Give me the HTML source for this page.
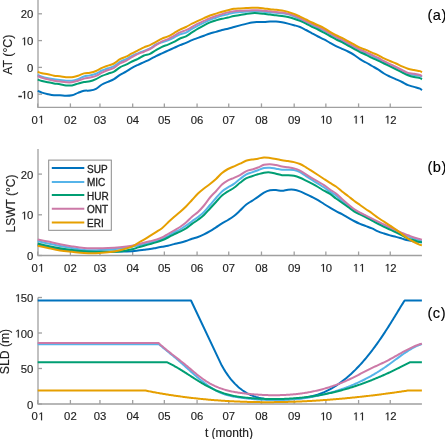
<!DOCTYPE html>
<html><head><meta charset="utf-8"><style>
html,body{margin:0;padding:0;background:#fff;}
body{width:445px;height:439px;overflow:hidden;}
svg{display:block;}
svg text{filter:grayscale(1);}
text{font-family:"Liberation Sans",sans-serif;fill:#222;stroke:#222;stroke-width:0.15px;}
.tl text{font-size:11.3px;}
.one polygon{fill:#222;stroke:#222;stroke-width:0.15px;}
.lg{font-size:10px;stroke-width:0.3px;}
.yl{font-size:12px;}
.pl{font-size:14.6px;fill:#000;stroke:#000;letter-spacing:0.6px;}
</style></head><body>
<svg width="445" height="439" viewBox="0 0 445 439">
<g stroke="#a0a0a0" stroke-width="1.3" fill="none"><line x1="37.68" y1="107.4" x2="37.68" y2="103.4" /><line x1="70.40" y1="107.4" x2="70.40" y2="103.4" /><line x1="99.96" y1="107.4" x2="99.96" y2="103.4" /><line x1="132.68" y1="107.4" x2="132.68" y2="103.4" /><line x1="164.35" y1="107.4" x2="164.35" y2="103.4" /><line x1="197.08" y1="107.4" x2="197.08" y2="103.4" /><line x1="228.74" y1="107.4" x2="228.74" y2="103.4" /><line x1="261.47" y1="107.4" x2="261.47" y2="103.4" /><line x1="294.19" y1="107.4" x2="294.19" y2="103.4" /><line x1="325.86" y1="107.4" x2="325.86" y2="103.4" /><line x1="358.58" y1="107.4" x2="358.58" y2="103.4" /><line x1="390.25" y1="107.4" x2="390.25" y2="103.4" /><line x1="38.0" y1="94.20" x2="42.0" y2="94.20" /><line x1="38.0" y1="67.40" x2="42.0" y2="67.40" /><line x1="38.0" y1="40.60" x2="42.0" y2="40.60" /><line x1="38.0" y1="13.80" x2="42.0" y2="13.80" /><polyline fill="none" points="38.0,0 38.0,107.4 421.92,107.4" /></g><g class="tl"><text x="16.95" y="98.80"><tspan dx="1.2" style="stroke-width:0.6px">-</tspan><tspan dx="-1.2"> 0</tspan></text><text x="27.00" y="72.00">0</text><text x="20.71" y="45.20"> 0</text><text x="20.71" y="18.40">20</text><text x="31.40" y="123.50">0 </text><text x="64.12" y="123.50">02</text><text x="93.68" y="123.50">03</text><text x="126.40" y="123.50">04</text><text x="158.07" y="123.50">05</text><text x="190.79" y="123.50">06</text><text x="222.46" y="123.50">07</text><text x="255.18" y="123.50">08</text><text x="287.91" y="123.50">09</text><text x="319.57" y="123.50"> 0</text><text x="352.30" y="123.50">  </text><text x="383.97" y="123.50"> 2</text></g><g class="one"><polygon points="24.10,98.80 24.10,91.97 22.53,93.12 22.53,92.23 24.19,91.03 25.10,91.03 25.10,98.80"/><polygon points="24.10,45.20 24.10,38.37 22.53,39.52 22.53,38.63 24.19,37.43 25.10,37.43 25.10,45.20"/><polygon points="41.07,123.50 41.07,116.67 39.50,117.82 39.50,116.93 41.16,115.73 42.07,115.73 42.07,123.50"/><polygon points="322.97,123.50 322.97,116.67 321.40,117.82 321.40,116.93 323.05,115.73 323.97,115.73 323.97,123.50"/><polygon points="355.69,123.50 355.69,116.67 354.12,117.82 354.12,116.93 355.77,115.73 356.69,115.73 356.69,123.50"/><polygon points="361.98,123.50 361.98,116.67 360.40,117.82 360.40,116.93 362.06,115.73 362.97,115.73 362.97,123.50"/><polygon points="387.36,123.50 387.36,116.67 385.79,117.82 385.79,116.93 387.44,115.73 388.36,115.73 388.36,123.50"/></g><g fill="none" stroke-width="2" stroke-linejoin="round" stroke-linecap="butt"><path d="M37.70,90.80 C38.42,91.10 40.28,92.03 42.00,92.60 C43.72,93.17 46.00,93.75 48.00,94.20 C50.00,94.65 52.00,95.12 54.00,95.30 C56.00,95.48 58.00,95.22 60.00,95.30 C62.00,95.38 64.00,95.80 66.00,95.80 C68.00,95.80 70.00,95.78 72.00,95.30 C74.00,94.82 76.00,93.65 78.00,92.90 C80.00,92.15 82.00,91.20 84.00,90.80 C86.00,90.40 88.00,90.83 90.00,90.50 C92.00,90.17 94.00,89.80 96.00,88.80 C98.00,87.80 100.00,85.67 102.00,84.50 C104.00,83.33 106.00,82.70 108.00,81.80 C110.00,80.90 112.00,80.27 114.00,79.10 C116.00,77.93 118.00,76.05 120.00,74.80 C122.00,73.55 124.00,72.77 126.00,71.60 C128.00,70.43 130.00,68.93 132.00,67.80 C134.00,66.67 136.00,65.75 138.00,64.80 C140.00,63.85 142.00,63.02 144.00,62.10 C146.00,61.18 148.00,60.30 150.00,59.30 C152.00,58.30 154.00,57.10 156.00,56.10 C158.00,55.10 160.00,54.22 162.00,53.30 C164.00,52.38 166.00,51.50 168.00,50.60 C170.00,49.70 172.00,48.80 174.00,47.90 C176.00,47.00 178.00,46.05 180.00,45.20 C182.00,44.35 184.00,43.65 186.00,42.80 C188.00,41.95 190.00,40.92 192.00,40.10 C194.00,39.28 196.00,38.63 198.00,37.90 C200.00,37.17 202.00,36.43 204.00,35.70 C206.00,34.97 208.00,34.13 210.00,33.50 C212.00,32.87 214.00,32.48 216.00,31.90 C218.00,31.32 220.00,30.53 222.00,30.00 C224.00,29.47 226.00,29.20 228.00,28.70 C230.00,28.20 232.00,27.55 234.00,27.00 C236.00,26.45 238.00,25.92 240.00,25.40 C242.00,24.88 244.00,24.40 246.00,23.90 C248.00,23.40 250.00,22.70 252.00,22.40 C254.00,22.10 256.00,22.15 258.00,22.10 C260.00,22.05 262.00,22.18 264.00,22.10 C266.00,22.02 268.00,21.70 270.00,21.60 C272.00,21.50 274.00,21.38 276.00,21.50 C278.00,21.62 280.00,21.95 282.00,22.30 C284.00,22.65 286.00,23.12 288.00,23.60 C290.00,24.08 292.00,24.63 294.00,25.20 C296.00,25.77 298.00,26.20 300.00,27.00 C302.00,27.80 304.00,28.95 306.00,30.00 C308.00,31.05 310.00,32.22 312.00,33.30 C314.00,34.38 316.00,35.48 318.00,36.50 C320.00,37.52 322.00,38.35 324.00,39.40 C326.00,40.45 328.00,41.68 330.00,42.80 C332.00,43.92 334.00,45.10 336.00,46.10 C338.00,47.10 340.00,47.90 342.00,48.80 C344.00,49.70 346.00,50.50 348.00,51.50 C350.00,52.50 352.00,53.52 354.00,54.80 C356.00,56.08 358.00,57.92 360.00,59.20 C362.00,60.48 364.00,61.37 366.00,62.50 C368.00,63.63 370.00,64.85 372.00,66.00 C374.00,67.15 376.00,68.15 378.00,69.40 C380.00,70.65 382.00,72.30 384.00,73.50 C386.00,74.70 388.00,75.63 390.00,76.60 C392.00,77.57 394.00,78.40 396.00,79.30 C398.00,80.20 400.00,81.03 402.00,82.00 C404.00,82.97 406.00,84.28 408.00,85.10 C410.00,85.92 412.00,86.30 414.00,86.90 C416.00,87.50 418.68,88.15 420.00,88.70 C421.32,89.25 421.58,89.95 421.90,90.20" stroke="#0072BD" /><path d="M37.70,74.80 C38.42,75.12 40.28,76.13 42.00,76.70 C43.72,77.27 46.00,77.77 48.00,78.20 C50.00,78.63 52.00,79.00 54.00,79.30 C56.00,79.60 58.00,79.77 60.00,80.00 C62.00,80.23 64.00,80.58 66.00,80.70 C68.00,80.82 70.00,80.97 72.00,80.70 C74.00,80.43 76.00,79.80 78.00,79.10 C80.00,78.40 82.00,77.12 84.00,76.50 C86.00,75.88 88.00,75.87 90.00,75.40 C92.00,74.93 94.00,74.52 96.00,73.70 C98.00,72.88 100.00,71.40 102.00,70.50 C104.00,69.60 106.00,69.02 108.00,68.30 C110.00,67.58 112.00,67.27 114.00,66.20 C116.00,65.13 118.00,63.07 120.00,61.90 C122.00,60.73 124.00,60.20 126.00,59.20 C128.00,58.20 130.00,56.88 132.00,55.90 C134.00,54.92 136.00,54.13 138.00,53.30 C140.00,52.47 142.00,51.72 144.00,50.90 C146.00,50.08 148.00,49.48 150.00,48.40 C152.00,47.32 154.00,45.40 156.00,44.40 C158.00,43.40 160.00,43.10 162.00,42.40 C164.00,41.70 166.00,41.02 168.00,40.20 C170.00,39.38 172.00,38.47 174.00,37.50 C176.00,36.53 178.00,35.22 180.00,34.40 C182.00,33.58 184.00,33.52 186.00,32.60 C188.00,31.68 190.00,30.07 192.00,28.90 C194.00,27.73 196.00,26.65 198.00,25.60 C200.00,24.55 202.00,23.55 204.00,22.60 C206.00,21.65 208.00,20.72 210.00,19.90 C212.00,19.08 214.00,18.43 216.00,17.70 C218.00,16.97 220.00,16.08 222.00,15.50 C224.00,14.92 226.00,14.67 228.00,14.20 C230.00,13.73 232.00,13.05 234.00,12.70 C236.00,12.35 238.00,12.27 240.00,12.10 C242.00,11.93 244.00,11.83 246.00,11.70 C248.00,11.57 250.00,11.37 252.00,11.30 C254.00,11.23 256.00,11.23 258.00,11.30 C260.00,11.37 262.00,11.52 264.00,11.70 C266.00,11.88 268.00,12.22 270.00,12.40 C272.00,12.58 273.00,12.47 276.00,12.80 C279.00,13.13 284.00,13.37 288.00,14.40 C292.00,15.43 296.00,17.25 300.00,19.00 C304.00,20.75 308.00,22.97 312.00,24.90 C316.00,26.83 320.00,28.50 324.00,30.60 C328.00,32.70 332.00,35.28 336.00,37.50 C340.00,39.72 344.00,41.78 348.00,43.90 C352.00,46.02 356.00,48.22 360.00,50.20 C364.00,52.18 368.00,53.82 372.00,55.80 C376.00,57.78 380.00,60.07 384.00,62.10 C388.00,64.13 392.00,66.05 396.00,68.00 C400.00,69.95 404.00,72.50 408.00,73.80 C412.00,75.10 417.68,75.27 420.00,75.80 C422.32,76.33 421.58,76.80 421.90,77.00" stroke="#56B4E9" /><path d="M37.70,79.60 C38.42,79.83 40.28,80.55 42.00,81.00 C43.72,81.45 46.00,81.90 48.00,82.30 C50.00,82.70 52.00,83.07 54.00,83.40 C56.00,83.73 58.00,83.97 60.00,84.30 C62.00,84.63 64.00,85.22 66.00,85.40 C68.00,85.58 70.00,85.70 72.00,85.40 C74.00,85.10 76.00,84.17 78.00,83.60 C80.00,83.03 82.00,82.38 84.00,82.00 C86.00,81.62 88.00,81.78 90.00,81.30 C92.00,80.82 94.00,80.00 96.00,79.10 C98.00,78.20 100.00,76.80 102.00,75.90 C104.00,75.00 106.00,74.42 108.00,73.70 C110.00,72.98 112.00,72.67 114.00,71.60 C116.00,70.53 118.00,68.47 120.00,67.30 C122.00,66.13 124.00,65.57 126.00,64.60 C128.00,63.63 130.00,62.47 132.00,61.50 C134.00,60.53 136.00,59.80 138.00,58.80 C140.00,57.80 142.00,56.32 144.00,55.50 C146.00,54.68 148.00,54.80 150.00,53.90 C152.00,53.00 154.00,51.28 156.00,50.10 C158.00,48.92 160.00,47.72 162.00,46.80 C164.00,45.88 166.00,45.42 168.00,44.60 C170.00,43.78 172.00,42.92 174.00,41.90 C176.00,40.88 178.00,39.43 180.00,38.50 C182.00,37.57 184.00,37.32 186.00,36.30 C188.00,35.28 190.00,33.68 192.00,32.40 C194.00,31.12 196.00,29.78 198.00,28.60 C200.00,27.42 202.00,26.33 204.00,25.30 C206.00,24.27 208.00,23.22 210.00,22.40 C212.00,21.58 214.00,21.00 216.00,20.40 C218.00,19.80 220.00,19.28 222.00,18.80 C224.00,18.32 226.00,17.97 228.00,17.50 C230.00,17.03 232.00,16.40 234.00,16.00 C236.00,15.60 238.00,15.43 240.00,15.10 C242.00,14.77 244.00,14.32 246.00,14.00 C248.00,13.68 250.00,13.33 252.00,13.20 C254.00,13.07 256.00,13.10 258.00,13.20 C260.00,13.30 262.00,13.57 264.00,13.80 C266.00,14.03 268.00,14.37 270.00,14.60 C272.00,14.83 274.00,14.97 276.00,15.20 C278.00,15.43 280.00,15.68 282.00,16.00 C284.00,16.32 286.00,16.65 288.00,17.10 C290.00,17.55 292.00,18.07 294.00,18.70 C296.00,19.33 298.00,20.08 300.00,20.90 C302.00,21.72 304.00,22.62 306.00,23.60 C308.00,24.58 310.00,25.82 312.00,26.80 C314.00,27.78 316.00,28.52 318.00,29.50 C320.00,30.48 322.00,31.62 324.00,32.70 C326.00,33.78 328.00,34.90 330.00,36.00 C332.00,37.10 334.00,38.27 336.00,39.30 C338.00,40.33 340.00,41.17 342.00,42.20 C344.00,43.23 346.00,44.40 348.00,45.50 C350.00,46.60 352.00,47.70 354.00,48.80 C356.00,49.90 358.00,51.10 360.00,52.10 C362.00,53.10 364.00,53.83 366.00,54.80 C368.00,55.77 370.00,56.93 372.00,57.90 C374.00,58.87 376.00,59.67 378.00,60.60 C380.00,61.53 382.00,62.53 384.00,63.50 C386.00,64.47 388.00,65.42 390.00,66.40 C392.00,67.38 394.00,68.42 396.00,69.40 C398.00,70.38 400.00,71.33 402.00,72.30 C404.00,73.27 406.00,74.42 408.00,75.20 C410.00,75.98 412.00,76.52 414.00,77.00 C416.00,77.48 418.68,77.72 420.00,78.10 C421.32,78.48 421.58,79.10 421.90,79.30" stroke="#009E73" /><path d="M37.70,75.90 C38.42,76.22 40.28,77.23 42.00,77.80 C43.72,78.37 46.00,78.82 48.00,79.30 C50.00,79.78 52.00,80.33 54.00,80.70 C56.00,81.07 58.00,81.23 60.00,81.50 C62.00,81.77 64.00,82.17 66.00,82.30 C68.00,82.43 70.00,82.57 72.00,82.30 C74.00,82.03 76.00,81.32 78.00,80.70 C80.00,80.08 82.00,79.13 84.00,78.60 C86.00,78.07 88.00,77.95 90.00,77.50 C92.00,77.05 94.00,76.70 96.00,75.90 C98.00,75.10 100.00,73.68 102.00,72.70 C104.00,71.72 106.00,70.82 108.00,70.00 C110.00,69.18 112.00,68.88 114.00,67.80 C116.00,66.72 118.00,64.67 120.00,63.50 C122.00,62.33 124.00,61.85 126.00,60.80 C128.00,59.75 130.00,58.35 132.00,57.20 C134.00,56.05 136.00,54.82 138.00,53.90 C140.00,52.98 142.00,52.52 144.00,51.70 C146.00,50.88 148.00,50.10 150.00,49.00 C152.00,47.90 154.00,46.38 156.00,45.10 C158.00,43.82 160.00,42.30 162.00,41.30 C164.00,40.30 166.00,40.02 168.00,39.10 C170.00,38.18 172.00,36.92 174.00,35.80 C176.00,34.68 178.00,33.33 180.00,32.40 C182.00,31.47 184.00,31.10 186.00,30.20 C188.00,29.30 190.00,28.08 192.00,27.00 C194.00,25.92 196.00,24.72 198.00,23.70 C200.00,22.68 202.00,21.82 204.00,20.90 C206.00,19.98 208.00,19.02 210.00,18.20 C212.00,17.38 214.00,16.68 216.00,16.00 C218.00,15.32 220.00,14.70 222.00,14.10 C224.00,13.50 226.00,12.87 228.00,12.40 C230.00,11.93 232.00,11.57 234.00,11.30 C236.00,11.03 238.00,10.92 240.00,10.80 C242.00,10.68 244.00,10.70 246.00,10.60 C248.00,10.50 250.00,10.27 252.00,10.20 C254.00,10.13 256.00,10.10 258.00,10.20 C260.00,10.30 262.00,10.62 264.00,10.80 C266.00,10.98 268.00,11.10 270.00,11.30 C272.00,11.50 274.00,11.78 276.00,12.00 C278.00,12.22 280.00,12.32 282.00,12.60 C284.00,12.88 286.00,13.22 288.00,13.70 C290.00,14.18 292.00,14.75 294.00,15.50 C296.00,16.25 298.00,17.22 300.00,18.20 C302.00,19.18 304.00,20.42 306.00,21.40 C308.00,22.38 310.00,23.20 312.00,24.10 C314.00,25.00 316.00,25.83 318.00,26.80 C320.00,27.77 322.00,28.78 324.00,29.90 C326.00,31.02 328.00,32.35 330.00,33.50 C332.00,34.65 334.00,35.77 336.00,36.80 C338.00,37.83 340.00,38.67 342.00,39.70 C344.00,40.73 346.00,41.90 348.00,43.00 C350.00,44.10 352.00,45.20 354.00,46.30 C356.00,47.40 358.00,48.63 360.00,49.60 C362.00,50.57 364.00,51.20 366.00,52.10 C368.00,53.00 370.00,54.07 372.00,55.00 C374.00,55.93 376.00,56.67 378.00,57.70 C380.00,58.73 382.00,60.13 384.00,61.20 C386.00,62.27 388.00,63.13 390.00,64.10 C392.00,65.07 394.00,66.02 396.00,67.00 C398.00,67.98 400.00,69.02 402.00,70.00 C404.00,70.98 406.00,72.27 408.00,72.90 C410.00,73.53 412.00,73.45 414.00,73.80 C416.00,74.15 418.68,74.62 420.00,75.00 C421.32,75.38 421.58,75.92 421.90,76.10" stroke="#CC79A7" /><path d="M37.70,71.80 C38.42,72.03 40.28,72.80 42.00,73.20 C43.72,73.60 46.00,73.78 48.00,74.20 C50.00,74.62 52.00,75.37 54.00,75.70 C56.00,76.03 58.00,75.95 60.00,76.20 C62.00,76.45 64.00,77.03 66.00,77.20 C68.00,77.37 70.00,77.45 72.00,77.20 C74.00,76.95 76.00,76.33 78.00,75.70 C80.00,75.07 82.00,73.90 84.00,73.40 C86.00,72.90 88.00,73.10 90.00,72.70 C92.00,72.30 94.00,71.82 96.00,71.00 C98.00,70.18 100.00,68.70 102.00,67.80 C104.00,66.90 106.00,66.32 108.00,65.60 C110.00,64.88 112.00,64.57 114.00,63.50 C116.00,62.43 118.00,60.33 120.00,59.20 C122.00,58.07 124.00,57.68 126.00,56.70 C128.00,55.72 130.00,54.37 132.00,53.30 C134.00,52.23 136.00,51.30 138.00,50.30 C140.00,49.30 142.00,48.17 144.00,47.30 C146.00,46.43 148.00,46.00 150.00,45.10 C152.00,44.20 154.00,42.98 156.00,41.90 C158.00,40.82 160.00,39.52 162.00,38.60 C164.00,37.68 166.00,37.32 168.00,36.40 C170.00,35.48 172.00,34.23 174.00,33.10 C176.00,31.97 178.00,30.62 180.00,29.60 C182.00,28.58 184.00,27.98 186.00,27.00 C188.00,26.02 190.00,24.72 192.00,23.70 C194.00,22.68 196.00,21.82 198.00,20.90 C200.00,19.98 202.00,19.10 204.00,18.20 C206.00,17.30 208.00,16.27 210.00,15.50 C212.00,14.73 214.00,14.23 216.00,13.60 C218.00,12.97 220.00,12.27 222.00,11.70 C224.00,11.13 226.00,10.68 228.00,10.20 C230.00,9.72 232.00,9.10 234.00,8.80 C236.00,8.50 238.00,8.52 240.00,8.40 C242.00,8.28 244.00,8.20 246.00,8.10 C248.00,8.00 250.00,7.85 252.00,7.80 C254.00,7.75 256.00,7.70 258.00,7.80 C260.00,7.90 262.00,8.17 264.00,8.40 C266.00,8.63 268.00,8.97 270.00,9.20 C272.00,9.43 274.00,9.57 276.00,9.80 C278.00,10.03 280.00,10.25 282.00,10.60 C284.00,10.95 286.00,11.35 288.00,11.90 C290.00,12.45 292.00,13.12 294.00,13.90 C296.00,14.68 298.00,15.67 300.00,16.60 C302.00,17.53 304.00,18.52 306.00,19.50 C308.00,20.48 310.00,21.55 312.00,22.50 C314.00,23.45 316.00,24.27 318.00,25.20 C320.00,26.13 322.00,27.00 324.00,28.10 C326.00,29.20 328.00,30.63 330.00,31.80 C332.00,32.97 334.00,34.08 336.00,35.10 C338.00,36.12 340.00,36.90 342.00,37.90 C344.00,38.90 346.00,40.02 348.00,41.10 C350.00,42.18 352.00,43.30 354.00,44.40 C356.00,45.50 358.00,46.78 360.00,47.70 C362.00,48.62 364.00,49.07 366.00,49.90 C368.00,50.73 370.00,51.83 372.00,52.70 C374.00,53.57 376.00,54.17 378.00,55.10 C380.00,56.03 382.00,57.32 384.00,58.30 C386.00,59.28 388.00,60.13 390.00,61.00 C392.00,61.87 394.00,62.60 396.00,63.50 C398.00,64.40 400.00,65.52 402.00,66.40 C404.00,67.28 406.00,68.20 408.00,68.80 C410.00,69.40 412.00,69.62 414.00,70.00 C416.00,70.38 418.68,70.72 420.00,71.10 C421.32,71.48 421.58,72.10 421.90,72.30" stroke="#E69F00" /></g><g stroke="#a0a0a0" stroke-width="1.3" fill="none"><line x1="37.68" y1="255.5" x2="37.68" y2="251.5" /><line x1="70.40" y1="255.5" x2="70.40" y2="251.5" /><line x1="99.96" y1="255.5" x2="99.96" y2="251.5" /><line x1="132.68" y1="255.5" x2="132.68" y2="251.5" /><line x1="164.35" y1="255.5" x2="164.35" y2="251.5" /><line x1="197.08" y1="255.5" x2="197.08" y2="251.5" /><line x1="228.74" y1="255.5" x2="228.74" y2="251.5" /><line x1="261.47" y1="255.5" x2="261.47" y2="251.5" /><line x1="294.19" y1="255.5" x2="294.19" y2="251.5" /><line x1="325.86" y1="255.5" x2="325.86" y2="251.5" /><line x1="358.58" y1="255.5" x2="358.58" y2="251.5" /><line x1="390.25" y1="255.5" x2="390.25" y2="251.5" /><line x1="38.0" y1="255.50" x2="42.0" y2="255.50" /><line x1="38.0" y1="214.80" x2="42.0" y2="214.80" /><line x1="38.0" y1="174.10" x2="42.0" y2="174.10" /><polyline fill="none" points="38.0,148.9 38.0,255.5 421.92,255.5" /></g><g class="tl"><text x="27.00" y="260.10">0</text><text x="20.71" y="219.40"> 0</text><text x="20.71" y="178.70">20</text><text x="31.40" y="271.80">0 </text><text x="64.12" y="271.80">02</text><text x="93.68" y="271.80">03</text><text x="126.40" y="271.80">04</text><text x="158.07" y="271.80">05</text><text x="190.79" y="271.80">06</text><text x="222.46" y="271.80">07</text><text x="255.18" y="271.80">08</text><text x="287.91" y="271.80">09</text><text x="319.57" y="271.80"> 0</text><text x="352.30" y="271.80">  </text><text x="383.97" y="271.80"> 2</text></g><g class="one"><polygon points="24.10,219.40 24.10,212.57 22.53,213.72 22.53,212.83 24.19,211.63 25.10,211.63 25.10,219.40"/><polygon points="41.07,271.80 41.07,264.97 39.50,266.12 39.50,265.23 41.16,264.03 42.07,264.03 42.07,271.80"/><polygon points="322.97,271.80 322.97,264.97 321.40,266.12 321.40,265.23 323.05,264.03 323.97,264.03 323.97,271.80"/><polygon points="355.69,271.80 355.69,264.97 354.12,266.12 354.12,265.23 355.77,264.03 356.69,264.03 356.69,271.80"/><polygon points="361.98,271.80 361.98,264.97 360.40,266.12 360.40,265.23 362.06,264.03 362.97,264.03 362.97,271.80"/><polygon points="387.36,271.80 387.36,264.97 385.79,266.12 385.79,265.23 387.44,264.03 388.36,264.03 388.36,271.80"/></g><g fill="none" stroke-width="2" stroke-linejoin="round" stroke-linecap="butt"><path d="M37.70,244.90 C39.42,245.25 44.28,246.28 48.00,247.00 C51.72,247.72 56.00,248.62 60.00,249.20 C64.00,249.78 68.00,250.15 72.00,250.50 C76.00,250.85 80.00,251.12 84.00,251.30 C88.00,251.48 92.00,251.52 96.00,251.60 C100.00,251.68 104.00,251.82 108.00,251.80 C112.00,251.78 116.00,251.60 120.00,251.50 C124.00,251.40 129.00,251.35 132.00,251.20 C135.00,251.05 136.00,250.83 138.00,250.60 C140.00,250.37 142.00,250.07 144.00,249.80 C146.00,249.53 148.00,249.32 150.00,249.00 C152.00,248.68 154.00,248.27 156.00,247.90 C158.00,247.53 160.00,247.17 162.00,246.80 C164.00,246.43 166.00,246.15 168.00,245.70 C170.00,245.25 172.00,244.58 174.00,244.10 C176.00,243.62 178.00,243.32 180.00,242.80 C182.00,242.28 184.00,241.67 186.00,241.00 C188.00,240.33 190.00,239.47 192.00,238.80 C194.00,238.13 196.00,237.73 198.00,237.00 C200.00,236.27 202.00,235.37 204.00,234.40 C206.00,233.43 208.00,232.38 210.00,231.20 C212.00,230.02 214.00,228.62 216.00,227.30 C218.00,225.98 220.00,224.52 222.00,223.30 C224.00,222.08 226.00,221.22 228.00,220.00 C230.00,218.78 232.00,217.57 234.00,216.00 C236.00,214.43 238.00,212.47 240.00,210.60 C242.00,208.73 244.00,206.43 246.00,204.80 C248.00,203.17 250.00,202.12 252.00,200.80 C254.00,199.48 256.00,198.27 258.00,196.90 C260.00,195.53 262.00,193.72 264.00,192.60 C266.00,191.48 268.00,190.63 270.00,190.20 C272.00,189.77 274.00,189.90 276.00,190.00 C278.00,190.10 280.00,190.85 282.00,190.80 C284.00,190.75 286.00,189.88 288.00,189.70 C290.00,189.52 292.00,189.42 294.00,189.70 C296.00,189.98 298.00,190.67 300.00,191.40 C302.00,192.13 304.00,193.17 306.00,194.10 C308.00,195.03 310.00,195.98 312.00,197.00 C314.00,198.02 316.00,199.03 318.00,200.20 C320.00,201.37 322.00,202.75 324.00,204.00 C326.00,205.25 328.00,206.50 330.00,207.70 C332.00,208.90 334.00,210.12 336.00,211.20 C338.00,212.28 340.00,213.13 342.00,214.20 C344.00,215.27 346.00,216.47 348.00,217.60 C350.00,218.73 352.00,219.95 354.00,221.00 C356.00,222.05 358.00,223.05 360.00,223.90 C362.00,224.75 364.00,225.35 366.00,226.10 C368.00,226.85 370.00,227.53 372.00,228.40 C374.00,229.27 376.00,230.45 378.00,231.30 C380.00,232.15 382.00,232.82 384.00,233.50 C386.00,234.18 388.00,234.83 390.00,235.40 C392.00,235.97 394.00,236.37 396.00,236.90 C398.00,237.43 400.00,238.03 402.00,238.60 C404.00,239.17 406.00,239.83 408.00,240.30 C410.00,240.77 412.00,241.12 414.00,241.40 C416.00,241.68 418.68,241.87 420.00,242.00 C421.32,242.13 421.58,242.17 421.90,242.20" stroke="#0072BD" /><path d="M37.70,241.00 C39.42,241.42 44.28,242.68 48.00,243.50 C51.72,244.32 56.00,245.15 60.00,245.90 C64.00,246.65 68.00,247.32 72.00,248.00 C76.00,248.68 80.00,249.63 84.00,250.00 C88.00,250.37 92.00,250.27 96.00,250.20 C100.00,250.13 104.00,249.87 108.00,249.60 C112.00,249.33 116.00,249.07 120.00,248.60 C124.00,248.13 129.00,247.33 132.00,246.80 C135.00,246.27 136.00,245.85 138.00,245.40 C140.00,244.95 142.00,244.53 144.00,244.10 C146.00,243.67 148.00,243.27 150.00,242.80 C152.00,242.33 154.00,241.90 156.00,241.30 C158.00,240.70 160.00,240.08 162.00,239.20 C164.00,238.32 166.00,237.12 168.00,236.00 C170.00,234.88 172.00,233.58 174.00,232.50 C176.00,231.42 178.00,230.65 180.00,229.50 C182.00,228.35 184.00,226.97 186.00,225.60 C188.00,224.23 190.00,222.73 192.00,221.30 C194.00,219.87 196.00,218.55 198.00,217.00 C200.00,215.45 202.00,214.00 204.00,212.00 C206.00,210.00 208.00,207.33 210.00,205.00 C212.00,202.67 214.00,200.27 216.00,198.00 C218.00,195.73 220.00,193.18 222.00,191.40 C224.00,189.62 226.00,188.55 228.00,187.30 C230.00,186.05 232.00,185.28 234.00,183.90 C236.00,182.52 238.00,180.55 240.00,179.00 C242.00,177.45 244.00,175.70 246.00,174.60 C248.00,173.50 250.00,173.13 252.00,172.40 C254.00,171.67 256.00,170.93 258.00,170.20 C260.00,169.47 262.00,168.42 264.00,168.00 C266.00,167.58 268.00,167.58 270.00,167.70 C272.00,167.82 274.00,168.37 276.00,168.70 C278.00,169.03 280.00,169.53 282.00,169.70 C284.00,169.87 286.00,169.65 288.00,169.70 C290.00,169.75 292.00,169.58 294.00,170.00 C296.00,170.42 298.00,171.18 300.00,172.20 C302.00,173.22 304.00,174.82 306.00,176.10 C308.00,177.38 310.00,178.63 312.00,179.90 C314.00,181.17 316.00,182.43 318.00,183.70 C320.00,184.97 322.00,186.17 324.00,187.50 C326.00,188.83 328.00,190.37 330.00,191.70 C332.00,193.03 334.00,193.95 336.00,195.50 C338.00,197.05 340.00,199.33 342.00,201.00 C344.00,202.67 346.00,204.03 348.00,205.50 C350.00,206.97 352.00,208.52 354.00,209.80 C356.00,211.08 358.00,212.12 360.00,213.20 C362.00,214.28 364.00,215.28 366.00,216.30 C368.00,217.32 370.00,218.27 372.00,219.30 C374.00,220.33 376.00,221.50 378.00,222.50 C380.00,223.50 381.00,223.90 384.00,225.30 C387.00,226.70 392.00,229.07 396.00,230.90 C400.00,232.73 404.00,234.73 408.00,236.30 C412.00,237.87 417.68,239.58 420.00,240.30 C422.32,241.02 421.58,240.55 421.90,240.60" stroke="#56B4E9" /><path d="M37.70,243.50 C39.42,243.90 44.28,245.12 48.00,245.90 C51.72,246.68 56.00,247.52 60.00,248.20 C64.00,248.88 68.00,249.50 72.00,250.00 C76.00,250.50 80.00,250.90 84.00,251.20 C88.00,251.50 92.00,251.70 96.00,251.80 C100.00,251.90 104.00,251.85 108.00,251.80 C112.00,251.75 116.00,251.92 120.00,251.50 C124.00,251.08 129.00,249.98 132.00,249.30 C135.00,248.62 136.00,248.00 138.00,247.40 C140.00,246.80 142.00,246.25 144.00,245.70 C146.00,245.15 148.00,244.65 150.00,244.10 C152.00,243.55 154.00,243.03 156.00,242.40 C158.00,241.77 160.00,241.12 162.00,240.30 C164.00,239.48 166.00,238.50 168.00,237.50 C170.00,236.50 172.00,235.27 174.00,234.30 C176.00,233.33 178.00,232.68 180.00,231.70 C182.00,230.72 184.00,229.70 186.00,228.40 C188.00,227.10 190.00,225.35 192.00,223.90 C194.00,222.45 196.00,221.18 198.00,219.70 C200.00,218.22 202.00,216.87 204.00,215.00 C206.00,213.13 208.00,210.67 210.00,208.50 C212.00,206.33 214.00,204.17 216.00,202.00 C218.00,199.83 220.00,197.28 222.00,195.50 C224.00,193.72 226.00,192.60 228.00,191.30 C230.00,190.00 232.00,189.12 234.00,187.70 C236.00,186.28 238.00,184.35 240.00,182.80 C242.00,181.25 244.00,179.50 246.00,178.40 C248.00,177.30 250.00,176.88 252.00,176.20 C254.00,175.52 256.00,174.88 258.00,174.30 C260.00,173.72 262.00,173.02 264.00,172.70 C266.00,172.38 268.00,172.23 270.00,172.40 C272.00,172.57 274.00,173.23 276.00,173.70 C278.00,174.17 280.00,174.95 282.00,175.20 C284.00,175.45 286.00,175.10 288.00,175.20 C290.00,175.30 292.00,175.38 294.00,175.80 C296.00,176.22 298.00,176.90 300.00,177.70 C302.00,178.50 304.00,179.60 306.00,180.60 C308.00,181.60 310.00,182.63 312.00,183.70 C314.00,184.77 316.00,185.83 318.00,187.00 C320.00,188.17 322.00,189.55 324.00,190.70 C326.00,191.85 328.00,192.60 330.00,193.90 C332.00,195.20 334.00,197.03 336.00,198.50 C338.00,199.97 340.00,201.28 342.00,202.70 C344.00,204.12 346.00,205.57 348.00,207.00 C350.00,208.43 352.00,210.07 354.00,211.30 C356.00,212.53 358.00,213.38 360.00,214.40 C362.00,215.42 364.00,216.38 366.00,217.40 C368.00,218.42 370.00,219.43 372.00,220.50 C374.00,221.57 376.00,222.75 378.00,223.80 C380.00,224.85 382.00,225.83 384.00,226.80 C386.00,227.77 388.00,228.67 390.00,229.60 C392.00,230.53 394.00,231.43 396.00,232.40 C398.00,233.37 400.00,234.37 402.00,235.40 C404.00,236.43 406.00,237.78 408.00,238.60 C410.00,239.42 412.00,239.73 414.00,240.30 C416.00,240.87 418.68,241.68 420.00,242.00 C421.32,242.32 421.58,242.17 421.90,242.20" stroke="#009E73" /><path d="M37.70,239.40 C39.42,239.77 44.28,240.80 48.00,241.60 C51.72,242.40 56.00,243.40 60.00,244.20 C64.00,245.00 68.00,245.77 72.00,246.40 C76.00,247.03 80.00,247.70 84.00,248.00 C88.00,248.30 92.00,248.20 96.00,248.20 C100.00,248.20 104.00,248.17 108.00,248.00 C112.00,247.83 116.00,247.58 120.00,247.20 C124.00,246.82 129.00,246.22 132.00,245.70 C135.00,245.18 136.00,244.58 138.00,244.10 C140.00,243.62 142.00,243.27 144.00,242.80 C146.00,242.33 148.00,241.82 150.00,241.30 C152.00,240.78 154.00,240.33 156.00,239.70 C158.00,239.07 160.00,238.45 162.00,237.50 C164.00,236.55 166.00,235.17 168.00,234.00 C170.00,232.83 172.00,231.67 174.00,230.50 C176.00,229.33 178.00,228.32 180.00,227.00 C182.00,225.68 184.00,224.32 186.00,222.60 C188.00,220.88 190.00,218.47 192.00,216.70 C194.00,214.93 196.00,213.87 198.00,212.00 C200.00,210.13 202.00,207.92 204.00,205.50 C206.00,203.08 208.00,199.88 210.00,197.50 C212.00,195.12 214.00,193.35 216.00,191.20 C218.00,189.05 220.00,186.40 222.00,184.60 C224.00,182.80 226.00,181.52 228.00,180.40 C230.00,179.28 232.00,178.78 234.00,177.90 C236.00,177.02 238.00,176.20 240.00,175.10 C242.00,174.00 244.00,172.23 246.00,171.30 C248.00,170.37 250.00,170.13 252.00,169.50 C254.00,168.87 256.00,168.28 258.00,167.50 C260.00,166.72 262.00,165.35 264.00,164.80 C266.00,164.25 268.00,164.17 270.00,164.20 C272.00,164.23 274.00,164.63 276.00,165.00 C278.00,165.37 280.00,166.02 282.00,166.40 C284.00,166.78 286.00,166.97 288.00,167.30 C290.00,167.63 292.00,167.85 294.00,168.40 C296.00,168.95 298.00,169.60 300.00,170.60 C302.00,171.60 304.00,173.13 306.00,174.40 C308.00,175.67 310.00,177.02 312.00,178.20 C314.00,179.38 316.00,180.33 318.00,181.50 C320.00,182.67 322.00,183.87 324.00,185.20 C326.00,186.53 328.00,188.12 330.00,189.50 C332.00,190.88 334.00,191.92 336.00,193.50 C338.00,195.08 340.00,197.22 342.00,199.00 C344.00,200.78 346.00,202.53 348.00,204.20 C350.00,205.87 352.00,207.60 354.00,209.00 C356.00,210.40 358.00,211.50 360.00,212.60 C362.00,213.70 364.00,214.60 366.00,215.60 C368.00,216.60 370.00,217.58 372.00,218.60 C374.00,219.62 376.00,220.72 378.00,221.70 C380.00,222.68 382.00,223.57 384.00,224.50 C386.00,225.43 388.00,226.35 390.00,227.30 C392.00,228.25 394.00,229.25 396.00,230.20 C398.00,231.15 400.00,232.17 402.00,233.00 C404.00,233.83 406.00,234.45 408.00,235.20 C410.00,235.95 412.00,236.85 414.00,237.50 C416.00,238.15 418.68,238.73 420.00,239.10 C421.32,239.47 421.58,239.60 421.90,239.70" stroke="#CC79A7" /><path d="M37.70,245.70 C39.42,246.08 44.28,247.22 48.00,248.00 C51.72,248.78 56.00,249.77 60.00,250.40 C64.00,251.03 68.00,251.37 72.00,251.80 C76.00,252.23 80.00,252.77 84.00,253.00 C88.00,253.23 92.00,253.32 96.00,253.20 C100.00,253.08 104.00,252.80 108.00,252.30 C112.00,251.80 116.00,251.15 120.00,250.20 C124.00,249.25 129.00,247.80 132.00,246.60 C135.00,245.40 136.00,244.15 138.00,243.00 C140.00,241.85 142.00,240.88 144.00,239.70 C146.00,238.52 148.00,237.17 150.00,235.90 C152.00,234.63 154.00,233.38 156.00,232.10 C158.00,230.82 160.00,229.80 162.00,228.20 C164.00,226.60 166.00,224.37 168.00,222.50 C170.00,220.63 172.00,218.75 174.00,217.00 C176.00,215.25 178.00,213.75 180.00,212.00 C182.00,210.25 184.00,208.50 186.00,206.50 C188.00,204.50 190.00,202.17 192.00,200.00 C194.00,197.83 196.00,195.42 198.00,193.50 C200.00,191.58 202.00,190.08 204.00,188.50 C206.00,186.92 208.00,185.58 210.00,184.00 C212.00,182.42 214.00,180.83 216.00,179.00 C218.00,177.17 220.00,174.67 222.00,173.00 C224.00,171.33 226.00,170.10 228.00,169.00 C230.00,167.90 232.00,167.28 234.00,166.40 C236.00,165.52 238.00,164.65 240.00,163.70 C242.00,162.75 244.00,161.38 246.00,160.70 C248.00,160.02 250.00,159.93 252.00,159.60 C254.00,159.27 256.00,159.07 258.00,158.70 C260.00,158.33 262.00,157.53 264.00,157.40 C266.00,157.27 268.00,157.65 270.00,157.90 C272.00,158.15 274.00,158.52 276.00,158.90 C278.00,159.28 280.00,159.85 282.00,160.20 C284.00,160.55 286.00,160.68 288.00,161.00 C290.00,161.32 292.00,161.60 294.00,162.10 C296.00,162.60 298.00,163.13 300.00,164.00 C302.00,164.87 304.00,166.12 306.00,167.30 C308.00,168.48 310.00,169.82 312.00,171.10 C314.00,172.38 316.00,173.68 318.00,175.00 C320.00,176.32 322.00,177.68 324.00,179.00 C326.00,180.32 328.00,181.65 330.00,182.90 C332.00,184.15 334.00,185.07 336.00,186.50 C338.00,187.93 340.00,189.92 342.00,191.50 C344.00,193.08 346.00,194.47 348.00,196.00 C350.00,197.53 352.00,199.20 354.00,200.70 C356.00,202.20 358.00,203.58 360.00,205.00 C362.00,206.42 364.00,207.83 366.00,209.20 C368.00,210.57 370.00,211.77 372.00,213.20 C374.00,214.63 376.00,216.38 378.00,217.80 C380.00,219.22 382.00,220.38 384.00,221.70 C386.00,223.02 388.00,224.38 390.00,225.70 C392.00,227.02 394.00,228.20 396.00,229.60 C398.00,231.00 400.00,232.60 402.00,234.10 C404.00,235.60 406.00,237.28 408.00,238.60 C410.00,239.92 412.00,240.97 414.00,242.00 C416.00,243.03 418.68,244.25 420.00,244.80 C421.32,245.35 421.58,245.22 421.90,245.30" stroke="#E69F00" /></g><g stroke="#a0a0a0" stroke-width="1.3" fill="none"><line x1="37.68" y1="404.0" x2="37.68" y2="400.0" /><line x1="70.40" y1="404.0" x2="70.40" y2="400.0" /><line x1="99.96" y1="404.0" x2="99.96" y2="400.0" /><line x1="132.68" y1="404.0" x2="132.68" y2="400.0" /><line x1="164.35" y1="404.0" x2="164.35" y2="400.0" /><line x1="197.08" y1="404.0" x2="197.08" y2="400.0" /><line x1="228.74" y1="404.0" x2="228.74" y2="400.0" /><line x1="261.47" y1="404.0" x2="261.47" y2="400.0" /><line x1="294.19" y1="404.0" x2="294.19" y2="400.0" /><line x1="325.86" y1="404.0" x2="325.86" y2="400.0" /><line x1="358.58" y1="404.0" x2="358.58" y2="400.0" /><line x1="390.25" y1="404.0" x2="390.25" y2="400.0" /><line x1="38.0" y1="404.00" x2="42.0" y2="404.00" /><line x1="38.0" y1="368.50" x2="42.0" y2="368.50" /><line x1="38.0" y1="333.00" x2="42.0" y2="333.00" /><line x1="38.0" y1="297.50" x2="42.0" y2="297.50" /><polyline fill="none" points="38.0,297.5 38.0,404.0 421.92,404.0" /></g><g class="tl"><text x="27.00" y="408.60">0</text><text x="20.71" y="373.10">50</text><text x="14.43" y="337.60"> 00</text><text x="14.43" y="302.10"> 50</text><text x="31.40" y="420.30">0 </text><text x="64.12" y="420.30">02</text><text x="93.68" y="420.30">03</text><text x="126.40" y="420.30">04</text><text x="158.07" y="420.30">05</text><text x="190.79" y="420.30">06</text><text x="222.46" y="420.30">07</text><text x="255.18" y="420.30">08</text><text x="287.91" y="420.30">09</text><text x="319.57" y="420.30"> 0</text><text x="352.30" y="420.30">  </text><text x="383.97" y="420.30"> 2</text></g><g class="one"><polygon points="17.82,337.60 17.82,330.77 16.25,331.92 16.25,331.03 17.90,329.83 18.82,329.83 18.82,337.60"/><polygon points="17.82,302.10 17.82,295.27 16.25,296.42 16.25,295.53 17.90,294.33 18.82,294.33 18.82,302.10"/><polygon points="41.07,420.30 41.07,413.47 39.50,414.62 39.50,413.73 41.16,412.53 42.07,412.53 42.07,420.30"/><polygon points="322.97,420.30 322.97,413.47 321.40,414.62 321.40,413.73 323.05,412.53 323.97,412.53 323.97,420.30"/><polygon points="355.69,420.30 355.69,413.47 354.12,414.62 354.12,413.73 355.77,412.53 356.69,412.53 356.69,420.30"/><polygon points="361.98,420.30 361.98,413.47 360.40,414.62 360.40,413.73 362.06,412.53 362.97,412.53 362.97,420.30"/><polygon points="387.36,420.30 387.36,413.47 385.79,414.62 385.79,413.73 387.44,412.53 388.36,412.53 388.36,420.30"/></g><g fill="none" stroke-width="2" stroke-linejoin="round" stroke-linecap="butt"><path d="M37.70,300.50 L191.00,300.50 L221.80,365.60 L222.80,367.34 L223.80,369.01 L224.80,370.62 L225.80,372.17 L226.80,373.66 L227.80,375.09 L228.80,376.47 L229.80,377.79 L230.80,379.06 L231.80,380.27 L232.80,381.43 L233.80,382.55 L234.80,383.61 L235.80,384.62 L236.80,385.59 L237.80,386.52 L238.80,387.40 L239.80,388.24 L240.80,389.03 L241.80,389.79 L242.80,390.51 L243.80,391.19 L244.80,391.83 L245.80,392.44 L246.80,393.02 L247.80,393.56 L248.80,394.07 L249.80,394.55 L250.80,395.01 L251.80,395.43 L252.80,395.83 L253.80,396.21 L254.80,396.56 L255.80,396.89 L256.80,397.19 L257.80,397.47 L258.80,397.74 L259.80,397.98 L260.80,398.20 L261.80,398.40 L262.80,398.58 L263.80,398.74 L264.80,398.89 L265.80,399.02 L266.80,399.14 L267.80,399.24 L268.80,399.32 L269.80,399.40 L270.80,399.46 L271.80,399.51 L272.80,399.54 L273.80,399.57 L274.80,399.59 L275.80,399.60 L276.80,399.60 L277.80,399.59 L278.80,399.58 L279.80,399.56 L280.80,399.53 L281.80,399.50 L282.80,399.47 L283.80,399.43 L284.80,399.39 L285.80,399.35 L286.80,399.31 L287.80,399.26 L288.80,399.22 L289.80,399.17 L290.80,399.11 L291.80,399.05 L292.80,398.99 L293.80,398.92 L294.80,398.85 L295.80,398.77 L296.80,398.69 L297.80,398.59 L298.80,398.49 L299.80,398.39 L300.80,398.27 L301.80,398.15 L302.80,398.02 L303.80,397.87 L304.80,397.72 L305.80,397.56 L306.80,397.38 L307.80,397.20 L308.80,397.00 L309.80,396.79 L310.80,396.57 L311.80,396.34 L312.80,396.09 L313.80,395.83 L314.80,395.55 L315.80,395.26 L316.80,394.95 L317.80,394.63 L318.80,394.29 L319.80,393.93 L320.80,393.56 L321.80,393.17 L322.80,392.76 L323.80,392.33 L324.80,391.89 L325.80,391.43 L326.80,390.95 L327.80,390.46 L328.80,389.94 L329.80,389.41 L330.80,388.86 L331.80,388.30 L332.80,387.71 L333.80,387.11 L334.80,386.49 L335.80,385.86 L336.80,385.20 L337.80,384.53 L338.80,383.84 L339.80,383.13 L340.80,382.40 L341.80,381.66 L342.80,380.90 L343.80,380.12 L344.80,379.32 L345.80,378.50 L346.80,377.67 L347.80,376.82 L348.80,375.95 L349.80,375.06 L350.80,374.15 L351.80,373.22 L352.80,372.28 L353.80,371.32 L354.80,370.34 L355.80,369.34 L356.80,368.32 L357.80,367.28 L358.80,366.23 L359.80,365.16 L360.80,364.07 L361.80,362.96 L362.80,361.83 L363.80,360.68 L364.80,359.51 L365.80,358.33 L366.80,357.13 L367.80,355.91 L368.80,354.66 L369.80,353.40 L370.80,352.13 L371.80,350.83 L372.80,349.51 L373.80,348.18 L374.80,346.82 L375.80,345.45 L376.80,344.06 L377.80,342.66 L378.80,341.23 L379.80,339.79 L380.80,338.34 L381.80,336.86 L382.80,335.37 L383.80,333.87 L384.80,332.35 L385.80,330.82 L386.80,329.27 L387.80,327.71 L388.80,326.14 L389.80,324.55 L390.80,322.95 L391.80,321.34 L392.80,319.72 L393.80,318.08 L394.80,316.44 L395.80,314.80 L396.80,313.15 L397.80,311.51 L398.80,309.86 L399.80,308.23 L400.80,306.59 L401.80,304.97 L402.80,303.36 L403.80,301.76 L404.60,300.50 L421.90,300.50" stroke="#0072BD" /><path d="M37.70,344.30 L159.00,344.30 L160.00,345.13 L161.00,345.96 L162.00,346.79 L163.00,347.62 L164.00,348.44 L165.00,349.26 L166.00,350.08 L167.00,350.90 L168.00,351.72 L169.00,352.54 L170.00,353.36 L171.00,354.18 L172.00,355.01 L173.00,355.84 L174.00,356.67 L175.00,357.51 L176.00,358.35 L177.00,359.20 L178.00,360.05 L179.00,360.91 L180.00,361.78 L181.00,362.66 L182.00,363.54 L183.00,364.43 L184.00,365.33 L185.00,366.23 L186.00,367.14 L187.00,368.05 L188.00,368.96 L189.00,369.87 L190.00,370.78 L191.00,371.68 L192.00,372.59 L193.00,373.48 L194.00,374.37 L195.00,375.25 L196.00,376.12 L197.00,376.98 L198.00,377.83 L199.00,378.66 L200.00,379.48 L201.00,380.29 L202.00,381.09 L203.00,381.87 L204.00,382.64 L205.00,383.39 L206.00,384.12 L207.00,384.84 L208.00,385.55 L209.00,386.23 L210.00,386.90 L211.00,387.55 L212.00,388.18 L213.00,388.80 L214.00,389.39 L215.00,389.96 L216.00,390.52 L217.00,391.05 L218.00,391.56 L219.00,392.05 L220.00,392.51 L221.00,392.96 L222.00,393.38 L223.00,393.77 L224.00,394.14 L225.00,394.48 L226.00,394.80 L227.00,395.10 L228.00,395.37 L229.00,395.62 L230.00,395.86 L231.00,396.08 L232.00,396.28 L233.00,396.47 L234.00,396.65 L235.00,396.82 L236.00,396.98 L237.00,397.13 L238.00,397.28 L239.00,397.42 L240.00,397.56 L241.00,397.70 L242.00,397.83 L243.00,397.96 L244.00,398.09 L245.00,398.21 L246.00,398.33 L247.00,398.44 L248.00,398.56 L249.00,398.66 L250.00,398.77 L251.00,398.87 L252.00,398.97 L253.00,399.06 L254.00,399.15 L255.00,399.23 L256.00,399.31 L257.00,399.39 L258.00,399.46 L259.00,399.53 L260.00,399.60 L261.00,399.66 L262.00,399.72 L263.00,399.77 L264.00,399.82 L265.00,399.87 L266.00,399.91 L267.00,399.94 L268.00,399.98 L269.00,400.01 L270.00,400.03 L271.00,400.05 L272.00,400.07 L273.00,400.08 L274.00,400.08 L275.00,400.09 L276.00,400.08 L277.00,400.08 L278.00,400.07 L279.00,400.05 L280.00,400.03 L281.00,400.01 L282.00,399.98 L283.00,399.95 L284.00,399.91 L285.00,399.87 L286.00,399.82 L287.00,399.77 L288.00,399.71 L289.00,399.65 L290.00,399.59 L291.00,399.52 L292.00,399.44 L293.00,399.36 L294.00,399.28 L295.00,399.19 L296.00,399.09 L297.00,398.99 L298.00,398.89 L299.00,398.78 L300.00,398.67 L301.00,398.55 L302.00,398.42 L303.00,398.29 L304.00,398.16 L305.00,398.02 L306.00,397.88 L307.00,397.73 L308.00,397.57 L309.00,397.41 L310.00,397.25 L311.00,397.08 L312.00,396.90 L313.00,396.72 L314.00,396.53 L315.00,396.34 L316.00,396.14 L317.00,395.94 L318.00,395.73 L319.00,395.52 L320.00,395.30 L321.00,395.08 L322.00,394.85 L323.00,394.61 L324.00,394.37 L325.00,394.12 L326.00,393.87 L327.00,393.61 L328.00,393.35 L329.00,393.08 L330.00,392.81 L331.00,392.53 L332.00,392.24 L333.00,391.95 L334.00,391.65 L335.00,391.34 L336.00,391.03 L337.00,390.72 L338.00,390.40 L339.00,390.07 L340.00,389.74 L341.00,389.40 L342.00,389.05 L343.00,388.70 L344.00,388.34 L345.00,387.98 L346.00,387.61 L347.00,387.23 L348.00,386.85 L349.00,386.46 L350.00,386.06 L351.00,385.66 L352.00,385.24 L353.00,384.83 L354.00,384.40 L355.00,383.97 L356.00,383.53 L357.00,383.08 L358.00,382.63 L359.00,382.17 L360.00,381.70 L361.00,381.22 L362.00,380.74 L363.00,380.25 L364.00,379.75 L365.00,379.24 L366.00,378.72 L367.00,378.20 L368.00,377.67 L369.00,377.13 L370.00,376.58 L371.00,376.02 L372.00,375.45 L373.00,374.88 L374.00,374.30 L375.00,373.71 L376.00,373.10 L377.00,372.49 L378.00,371.88 L379.00,371.25 L380.00,370.61 L381.00,369.96 L382.00,369.31 L383.00,368.64 L384.00,367.97 L385.00,367.28 L386.00,366.59 L387.00,365.89 L388.00,365.17 L389.00,364.45 L390.00,363.73 L391.00,363.00 L392.00,362.26 L393.00,361.52 L394.00,360.78 L395.00,360.04 L396.00,359.30 L397.00,358.57 L398.00,357.83 L399.00,357.10 L400.00,356.37 L401.00,355.65 L402.00,354.94 L403.00,354.24 L404.00,353.55 L405.00,352.86 L406.00,352.19 L407.00,351.54 L408.00,350.90 L409.00,350.27 L410.00,349.66 L411.00,349.07 L412.00,348.49 L413.00,347.94 L414.00,347.41 L415.00,346.90 L416.00,346.42 L417.00,345.96 L418.00,345.52 L419.00,345.12 L420.00,344.74 L421.00,344.39 L421.90,344.10" stroke="#56B4E9" /><path d="M37.70,362.20 L166.80,362.20 L167.80,362.65 L168.80,363.12 L169.80,363.61 L170.80,364.11 L171.80,364.63 L172.80,365.16 L173.80,365.70 L174.80,366.26 L175.80,366.82 L176.80,367.40 L177.80,367.99 L178.80,368.59 L179.80,369.19 L180.80,369.80 L181.80,370.42 L182.80,371.05 L183.80,371.68 L184.80,372.31 L185.80,372.95 L186.80,373.59 L187.80,374.23 L188.80,374.88 L189.80,375.52 L190.80,376.17 L191.80,376.81 L192.80,377.45 L193.80,378.09 L194.80,378.73 L195.80,379.36 L196.80,379.99 L197.80,380.62 L198.80,381.23 L199.80,381.85 L200.80,382.45 L201.80,383.05 L202.80,383.63 L203.80,384.21 L204.80,384.78 L205.80,385.34 L206.80,385.89 L207.80,386.43 L208.80,386.95 L209.80,387.47 L210.80,387.97 L211.80,388.46 L212.80,388.94 L213.80,389.40 L214.80,389.86 L215.80,390.30 L216.80,390.72 L217.80,391.14 L218.80,391.54 L219.80,391.93 L220.80,392.30 L221.80,392.67 L222.80,393.02 L223.80,393.35 L224.80,393.67 L225.80,393.98 L226.80,394.28 L227.80,394.56 L228.80,394.82 L229.80,395.07 L230.80,395.31 L231.80,395.54 L232.80,395.75 L233.80,395.95 L234.80,396.14 L235.80,396.31 L236.80,396.48 L237.80,396.64 L238.80,396.79 L239.80,396.93 L240.80,397.06 L241.80,397.19 L242.80,397.30 L243.80,397.42 L244.80,397.52 L245.80,397.63 L246.80,397.72 L247.80,397.82 L248.80,397.91 L249.80,398.00 L250.80,398.08 L251.80,398.16 L252.80,398.24 L253.80,398.31 L254.80,398.38 L255.80,398.45 L256.80,398.52 L257.80,398.58 L258.80,398.63 L259.80,398.69 L260.80,398.74 L261.80,398.78 L262.80,398.83 L263.80,398.86 L264.80,398.90 L265.80,398.93 L266.80,398.96 L267.80,398.99 L268.80,399.01 L269.80,399.03 L270.80,399.04 L271.80,399.05 L272.80,399.06 L273.80,399.06 L274.80,399.06 L275.80,399.06 L276.80,399.05 L277.80,399.04 L278.80,399.03 L279.80,399.01 L280.80,398.99 L281.80,398.96 L282.80,398.93 L283.80,398.90 L284.80,398.86 L285.80,398.82 L286.80,398.77 L287.80,398.73 L288.80,398.67 L289.80,398.62 L290.80,398.56 L291.80,398.49 L292.80,398.43 L293.80,398.36 L294.80,398.28 L295.80,398.20 L296.80,398.12 L297.80,398.03 L298.80,397.94 L299.80,397.85 L300.80,397.75 L301.80,397.64 L302.80,397.54 L303.80,397.43 L304.80,397.31 L305.80,397.19 L306.80,397.07 L307.80,396.95 L308.80,396.82 L309.80,396.68 L310.80,396.54 L311.80,396.40 L312.80,396.25 L313.80,396.10 L314.80,395.95 L315.80,395.79 L316.80,395.63 L317.80,395.46 L318.80,395.29 L319.80,395.11 L320.80,394.93 L321.80,394.75 L322.80,394.56 L323.80,394.37 L324.80,394.17 L325.80,393.97 L326.80,393.77 L327.80,393.56 L328.80,393.35 L329.80,393.13 L330.80,392.91 L331.80,392.68 L332.80,392.45 L333.80,392.22 L334.80,391.98 L335.80,391.74 L336.80,391.49 L337.80,391.24 L338.80,390.98 L339.80,390.72 L340.80,390.45 L341.80,390.19 L342.80,389.91 L343.80,389.63 L344.80,389.35 L345.80,389.06 L346.80,388.77 L347.80,388.48 L348.80,388.18 L349.80,387.87 L350.80,387.56 L351.80,387.25 L352.80,386.93 L353.80,386.61 L354.80,386.28 L355.80,385.95 L356.80,385.61 L357.80,385.28 L358.80,384.93 L359.80,384.58 L360.80,384.23 L361.80,383.87 L362.80,383.51 L363.80,383.15 L364.80,382.78 L365.80,382.40 L366.80,382.03 L367.80,381.65 L368.80,381.26 L369.80,380.87 L370.80,380.48 L371.80,380.08 L372.80,379.68 L373.80,379.27 L374.80,378.87 L375.80,378.45 L376.80,378.04 L377.80,377.62 L378.80,377.19 L379.80,376.77 L380.80,376.33 L381.80,375.90 L382.80,375.46 L383.80,375.02 L384.80,374.57 L385.80,374.12 L386.80,373.67 L387.80,373.22 L388.80,372.76 L389.80,372.29 L390.80,371.83 L391.80,371.36 L392.80,370.88 L393.80,370.41 L394.80,369.93 L395.80,369.44 L396.80,368.96 L397.80,368.47 L398.80,367.98 L399.80,367.48 L400.80,366.98 L401.80,366.48 L402.80,365.97 L403.80,365.47 L404.80,364.96 L405.80,364.44 L406.80,363.92 L407.80,363.40 L408.80,362.88 L409.80,362.36 L410.10,362.20 L421.90,362.20" stroke="#009E73" /><path d="M37.70,343.10 L158.60,343.10 L159.60,344.00 L160.60,344.88 L161.60,345.75 L162.60,346.61 L163.60,347.45 L164.60,348.29 L165.60,349.12 L166.60,349.93 L167.60,350.74 L168.60,351.55 L169.60,352.34 L170.60,353.13 L171.60,353.92 L172.60,354.70 L173.60,355.48 L174.60,356.26 L175.60,357.04 L176.60,357.82 L177.60,358.60 L178.60,359.38 L179.60,360.16 L180.60,360.95 L181.60,361.74 L182.60,362.53 L183.60,363.33 L184.60,364.14 L185.60,364.96 L186.60,365.78 L187.60,366.61 L188.60,367.45 L189.60,368.29 L190.60,369.13 L191.60,369.98 L192.60,370.82 L193.60,371.66 L194.60,372.50 L195.60,373.33 L196.60,374.15 L197.60,374.96 L198.60,375.75 L199.60,376.54 L200.60,377.31 L201.60,378.06 L202.60,378.79 L203.60,379.50 L204.60,380.19 L205.60,380.86 L206.60,381.50 L207.60,382.12 L208.60,382.72 L209.60,383.30 L210.60,383.85 L211.60,384.39 L212.60,384.90 L213.60,385.39 L214.60,385.87 L215.60,386.32 L216.60,386.76 L217.60,387.17 L218.60,387.58 L219.60,387.96 L220.60,388.33 L221.60,388.68 L222.60,389.01 L223.60,389.33 L224.60,389.64 L225.60,389.93 L226.60,390.21 L227.60,390.47 L228.60,390.73 L229.60,390.97 L230.60,391.20 L231.60,391.41 L232.60,391.62 L233.60,391.82 L234.60,392.00 L235.60,392.18 L236.60,392.35 L237.60,392.51 L238.60,392.66 L239.60,392.81 L240.60,392.94 L241.60,393.08 L242.60,393.20 L243.60,393.32 L244.60,393.44 L245.60,393.55 L246.60,393.66 L247.60,393.76 L248.60,393.86 L249.60,393.96 L250.60,394.05 L251.60,394.14 L252.60,394.23 L253.60,394.31 L254.60,394.39 L255.60,394.47 L256.60,394.54 L257.60,394.61 L258.60,394.68 L259.60,394.74 L260.60,394.80 L261.60,394.86 L262.60,394.91 L263.60,394.96 L264.60,395.00 L265.60,395.04 L266.60,395.08 L267.60,395.11 L268.60,395.13 L269.60,395.16 L270.60,395.18 L271.60,395.19 L272.60,395.20 L273.60,395.21 L274.60,395.21 L275.60,395.21 L276.60,395.20 L277.60,395.19 L278.60,395.17 L279.60,395.15 L280.60,395.12 L281.60,395.09 L282.60,395.06 L283.60,395.02 L284.60,394.97 L285.60,394.92 L286.60,394.87 L287.60,394.81 L288.60,394.74 L289.60,394.67 L290.60,394.60 L291.60,394.52 L292.60,394.43 L293.60,394.34 L294.60,394.25 L295.60,394.14 L296.60,394.04 L297.60,393.92 L298.60,393.80 L299.60,393.68 L300.60,393.55 L301.60,393.42 L302.60,393.27 L303.60,393.13 L304.60,392.97 L305.60,392.82 L306.60,392.65 L307.60,392.48 L308.60,392.30 L309.60,392.12 L310.60,391.93 L311.60,391.74 L312.60,391.54 L313.60,391.33 L314.60,391.11 L315.60,390.89 L316.60,390.67 L317.60,390.43 L318.60,390.19 L319.60,389.95 L320.60,389.69 L321.60,389.43 L322.60,389.17 L323.60,388.89 L324.60,388.61 L325.60,388.33 L326.60,388.03 L327.60,387.73 L328.60,387.42 L329.60,387.11 L330.60,386.79 L331.60,386.46 L332.60,386.12 L333.60,385.78 L334.60,385.43 L335.60,385.07 L336.60,384.70 L337.60,384.33 L338.60,383.95 L339.60,383.56 L340.60,383.17 L341.60,382.76 L342.60,382.35 L343.60,381.93 L344.60,381.50 L345.60,381.07 L346.60,380.63 L347.60,380.18 L348.60,379.72 L349.60,379.25 L350.60,378.78 L351.60,378.30 L352.60,377.81 L353.60,377.31 L354.60,376.81 L355.60,376.31 L356.60,375.80 L357.60,375.28 L358.60,374.77 L359.60,374.25 L360.60,373.73 L361.60,373.21 L362.60,372.69 L363.60,372.17 L364.60,371.65 L365.60,371.14 L366.60,370.62 L367.60,370.11 L368.60,369.61 L369.60,369.11 L370.60,368.62 L371.60,368.13 L372.60,367.65 L373.60,367.17 L374.60,366.71 L375.60,366.24 L376.60,365.79 L377.60,365.33 L378.60,364.87 L379.60,364.41 L380.60,363.95 L381.60,363.49 L382.60,363.02 L383.60,362.54 L384.60,362.06 L385.60,361.57 L386.60,361.07 L387.60,360.55 L388.60,360.03 L389.60,359.50 L390.60,358.96 L391.60,358.41 L392.60,357.86 L393.60,357.30 L394.60,356.74 L395.60,356.18 L396.60,355.61 L397.60,355.05 L398.60,354.48 L399.60,353.92 L400.60,353.35 L401.60,352.79 L402.60,352.24 L403.60,351.68 L404.60,351.14 L405.60,350.60 L406.60,350.07 L407.60,349.55 L408.60,349.03 L409.60,348.53 L410.60,348.04 L411.60,347.56 L412.60,347.10 L413.60,346.65 L414.60,346.21 L415.60,345.79 L416.60,345.39 L417.60,345.01 L418.60,344.65 L419.60,344.31 L420.60,343.98 L421.60,343.69 L421.90,343.60" stroke="#CC79A7" /><path d="M37.70,390.40 L144.60,390.40 L145.60,390.60 L146.60,390.80 L147.60,391.00 L148.60,391.20 L149.60,391.39 L150.60,391.59 L151.60,391.78 L152.60,391.97 L153.60,392.15 L154.60,392.34 L155.60,392.52 L156.60,392.70 L157.60,392.88 L158.60,393.06 L159.60,393.23 L160.60,393.41 L161.60,393.58 L162.60,393.75 L163.60,393.92 L164.60,394.08 L165.60,394.25 L166.60,394.41 L167.60,394.57 L168.60,394.73 L169.60,394.89 L170.60,395.04 L171.60,395.20 L172.60,395.35 L173.60,395.50 L174.60,395.65 L175.60,395.79 L176.60,395.94 L177.60,396.08 L178.60,396.22 L179.60,396.36 L180.60,396.50 L181.60,396.63 L182.60,396.77 L183.60,396.90 L184.60,397.03 L185.60,397.16 L186.60,397.28 L187.60,397.41 L188.60,397.53 L189.60,397.65 L190.60,397.77 L191.60,397.89 L192.60,398.01 L193.60,398.12 L194.60,398.23 L195.60,398.34 L196.60,398.45 L197.60,398.56 L198.60,398.67 L199.60,398.77 L200.60,398.88 L201.60,398.98 L202.60,399.08 L203.60,399.17 L204.60,399.27 L205.60,399.36 L206.60,399.46 L207.60,399.55 L208.60,399.64 L209.60,399.72 L210.60,399.81 L211.60,399.89 L212.60,399.98 L213.60,400.06 L214.60,400.14 L215.60,400.22 L216.60,400.29 L217.60,400.37 L218.60,400.44 L219.60,400.51 L220.60,400.58 L221.60,400.65 L222.60,400.72 L223.60,400.78 L224.60,400.85 L225.60,400.91 L226.60,400.97 L227.60,401.03 L228.60,401.08 L229.60,401.14 L230.60,401.19 L231.60,401.25 L232.60,401.30 L233.60,401.35 L234.60,401.40 L235.60,401.44 L236.60,401.49 L237.60,401.53 L238.60,401.57 L239.60,401.61 L240.60,401.65 L241.60,401.69 L242.60,401.73 L243.60,401.76 L244.60,401.79 L245.60,401.83 L246.60,401.86 L247.60,401.88 L248.60,401.91 L249.60,401.94 L250.60,401.96 L251.60,401.99 L252.60,402.01 L253.60,402.03 L254.60,402.05 L255.60,402.06 L256.60,402.08 L257.60,402.09 L258.60,402.11 L259.60,402.12 L260.60,402.13 L261.60,402.14 L262.60,402.14 L263.60,402.15 L264.60,402.15 L265.60,402.16 L266.60,402.16 L267.60,402.16 L268.60,402.16 L269.60,402.16 L270.60,402.15 L271.60,402.15 L272.60,402.14 L273.60,402.13 L274.60,402.12 L275.60,402.11 L276.60,402.10 L277.60,402.09 L278.60,402.07 L279.60,402.06 L280.60,402.04 L281.60,402.02 L282.60,402.00 L283.60,401.98 L284.60,401.96 L285.60,401.94 L286.60,401.91 L287.60,401.89 L288.60,401.86 L289.60,401.83 L290.60,401.80 L291.60,401.77 L292.60,401.74 L293.60,401.70 L294.60,401.67 L295.60,401.63 L296.60,401.59 L297.60,401.55 L298.60,401.51 L299.60,401.47 L300.60,401.43 L301.60,401.39 L302.60,401.34 L303.60,401.30 L304.60,401.25 L305.60,401.20 L306.60,401.15 L307.60,401.10 L308.60,401.05 L309.60,400.99 L310.60,400.94 L311.60,400.88 L312.60,400.83 L313.60,400.77 L314.60,400.71 L315.60,400.65 L316.60,400.59 L317.60,400.52 L318.60,400.46 L319.60,400.39 L320.60,400.33 L321.60,400.26 L322.60,400.19 L323.60,400.12 L324.60,400.05 L325.60,399.98 L326.60,399.90 L327.60,399.83 L328.60,399.75 L329.60,399.68 L330.60,399.60 L331.60,399.52 L332.60,399.44 L333.60,399.36 L334.60,399.28 L335.60,399.20 L336.60,399.11 L337.60,399.03 L338.60,398.94 L339.60,398.85 L340.60,398.76 L341.60,398.67 L342.60,398.58 L343.60,398.49 L344.60,398.40 L345.60,398.31 L346.60,398.21 L347.60,398.11 L348.60,398.02 L349.60,397.92 L350.60,397.82 L351.60,397.72 L352.60,397.62 L353.60,397.52 L354.60,397.41 L355.60,397.31 L356.60,397.21 L357.60,397.10 L358.60,396.99 L359.60,396.88 L360.60,396.77 L361.60,396.66 L362.60,396.55 L363.60,396.44 L364.60,396.33 L365.60,396.21 L366.60,396.10 L367.60,395.98 L368.60,395.87 L369.60,395.75 L370.60,395.63 L371.60,395.51 L372.60,395.39 L373.60,395.27 L374.60,395.15 L375.60,395.02 L376.60,394.90 L377.60,394.77 L378.60,394.65 L379.60,394.52 L380.60,394.39 L381.60,394.26 L382.60,394.13 L383.60,394.00 L384.60,393.87 L385.60,393.74 L386.60,393.61 L387.60,393.47 L388.60,393.34 L389.60,393.20 L390.60,393.07 L391.60,392.93 L392.60,392.79 L393.60,392.65 L394.60,392.51 L395.60,392.37 L396.60,392.23 L397.60,392.08 L398.60,391.94 L399.60,391.80 L400.60,391.65 L401.60,391.51 L402.60,391.36 L403.60,391.21 L404.60,391.06 L405.60,390.91 L406.60,390.76 L407.60,390.61 L408.60,390.46 L409.00,390.40 L421.90,390.40" stroke="#E69F00" /></g><rect x="48.7" y="160.1" width="62.6" height="70.2" fill="#fff" stroke="#8a8a8a" stroke-width="1"/><line x1="51.8" y1="168.1" x2="84.3" y2="168.1" stroke="#0072BD" stroke-width="2"/><text x="87" y="172.5" class="lg">SUP</text><line x1="51.8" y1="182.0" x2="84.3" y2="182.0" stroke="#56B4E9" stroke-width="2"/><text x="87" y="186.4" class="lg">MIC</text><line x1="51.8" y1="195.1" x2="84.3" y2="195.1" stroke="#009E73" stroke-width="2"/><text x="87" y="199.5" class="lg">HUR</text><line x1="51.8" y1="208.8" x2="84.3" y2="208.8" stroke="#CC79A7" stroke-width="2"/><text x="87" y="213.2" class="lg">ONT</text><line x1="51.8" y1="222.4" x2="84.3" y2="222.4" stroke="#E69F00" stroke-width="2"/><text x="87" y="226.8" class="lg">ERI</text><text class="yl" style="font-size:12.4px" transform="translate(11.5,54.7) rotate(-90)" text-anchor="middle">AT (°C)</text><text class="yl" transform="translate(14.9,203.5) rotate(-90)" text-anchor="middle">LSWT (°C)</text><text class="yl" style="font-size:12.2px" transform="translate(9.3,351.5) rotate(-90)" text-anchor="middle">SLD (m)</text><text class="yl" x="228.9" y="437" text-anchor="middle">t (month)</text><text class="pl" x="427.4" y="20.0">(a)</text><text class="pl" x="427.4" y="172.0">(b)</text><text class="pl" x="427.4" y="318.0">(c)</text>
</svg>
</body></html>
